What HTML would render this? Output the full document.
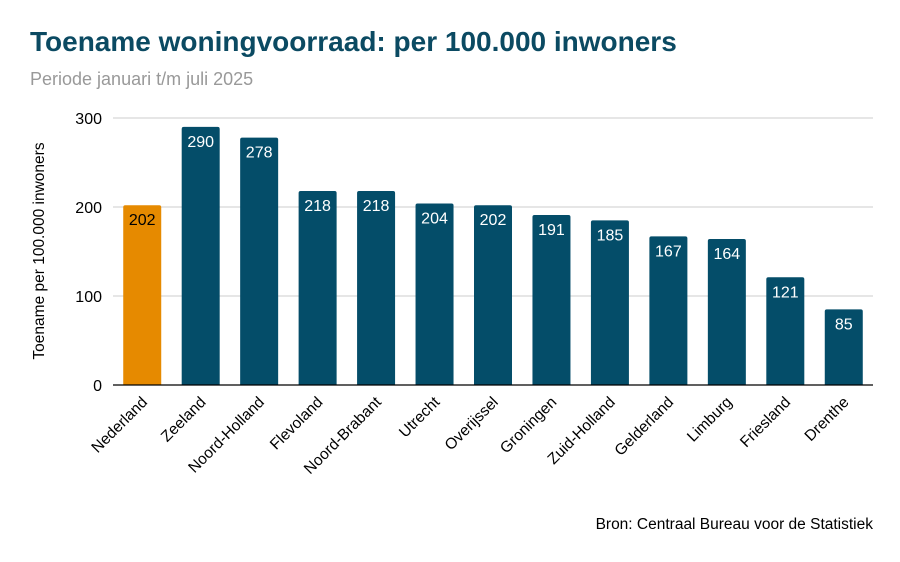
<!DOCTYPE html>
<html><head><meta charset="utf-8"><style>
body{margin:0;background:#fff;width:900px;height:557px;overflow:hidden;font-family:"Liberation Sans",sans-serif}
</style></head><body>
<svg width="900" height="557" xmlns="http://www.w3.org/2000/svg">
<text x="30" y="51" font-size="28" font-weight="bold" fill="#0b4a62">Toename woningvoorraad: per 100.000 inwoners</text>
<text x="30" y="85" font-size="18" fill="#999">Periode januari t/m juli 2025</text>
<text transform="translate(44,251) rotate(-90)" text-anchor="middle" font-size="15.5" fill="#000">Toename per 100.000 inwoners</text>
<g id="grid"></g><g id="bars"></g><g id="xl"></g>
<text x="873" y="529" text-anchor="end" font-size="15.5" fill="#000">Bron: Centraal Bureau voor de Statistiek</text>
</svg>
<script>
const categories=["Nederland","Zeeland","Noord-Holland","Flevoland","Noord-Brabant","Utrecht","Overijssel","Groningen","Zuid-Holland","Gelderland","Limburg","Friesland","Drenthe"];
const values=[202,290,278,218,218,204,202,191,185,167,164,121,85];
const ticks=[0,100,200,300];
const NS="http://www.w3.org/2000/svg";
const x0=113,x1=873,y0=385,ymax=300,ytop=118;
const y=v=>y0-(v/ymax)*(y0-ytop);
const step=(x1-x0)/categories.length;
const cx=i=>x0+step*(i+0.5);
function mk(t,a,p){const e=document.createElementNS(NS,t);for(const k in a)e.setAttribute(k,a[k]);p.appendChild(e);return e;}
const g=document.getElementById('grid'),b=document.getElementById('bars'),xl=document.getElementById('xl');
ticks.forEach(t=>{
 const l=mk('line',{x1:x0,x2:x1,y1:y(t),y2:y(t),stroke:t===0?'#000':'#ccc','stroke-width':t===0?1.3:1},g);
 
 
 const tx=mk('text',{x:102,y:y(t)+6,'text-anchor':'end','font-size':16,fill:'#000'},g);
 tx.textContent=t;
 
 
});
const w=38;
categories.forEach((c,i)=>{
 const v=values[i],top=y(v);
 const r=mk('path',{d:`M${cx(i)-w/2},${y0} V${top+2} q0,-2 2,-2 H${cx(i)+w/2-2} q2,0 2,2 V${y0} Z`,fill:i===0?'#e68a00':'#044d69'},b);
 
 
 const t=mk('text',{x:cx(i),y:top+20,'text-anchor':'middle','font-size':16,fill:i===0?'#000':'#fff'},b);
 t.textContent=v;
 
 
 const l=mk('text',{transform:`translate(${cx(i)+6},${y0+18}) rotate(-45)`,'text-anchor':'end','font-size':15.5,fill:'#000'},xl);
 l.textContent=c;
 
 
});
b.appendChild(g.firstChild);
</script>
</body></html>
